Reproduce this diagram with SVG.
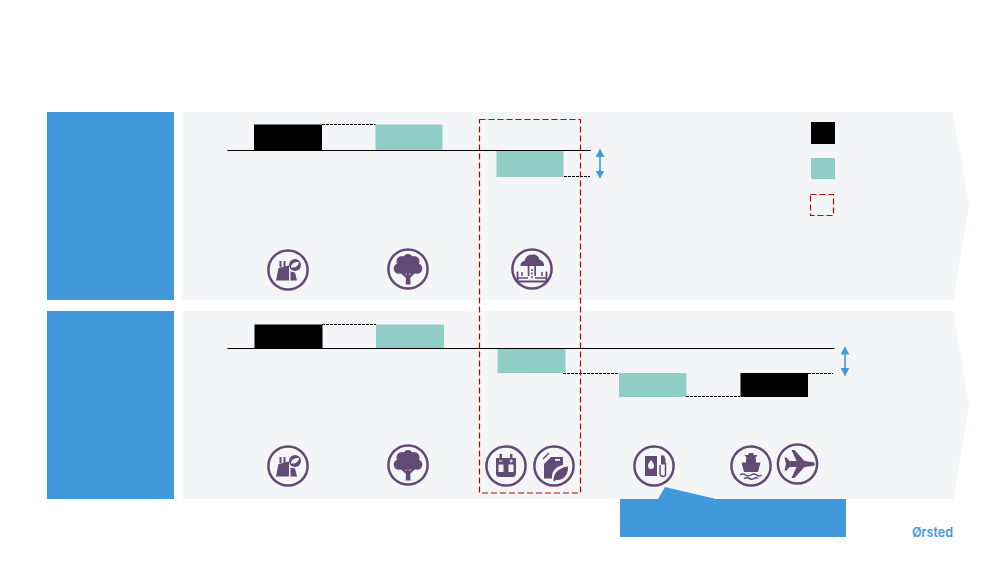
<svg xmlns="http://www.w3.org/2000/svg" width="1000" height="563" viewBox="0 0 1000 563">
<style>
.band{fill:#f4f5f7}.blue{fill:#4199dc}.blk{fill:#000}.teal{fill:#91cdc7}
.base{stroke:#000;stroke-width:1.2;fill:none}
.dash{stroke:#000;stroke-width:1;stroke-dasharray:3 1;fill:none}
.red{stroke:#c00000;stroke-width:1.2;stroke-dasharray:6 3;fill:none}
.dbl{stroke:#4199dc;stroke-width:1.6;fill:none;marker-start:url(#a);marker-end:url(#a)}
.ring{fill:none;stroke:#624a76;stroke-width:2.5}
.ic{fill:#624a76}
.icl{fill:none;stroke:#624a76;stroke-width:1.5}
.bg{fill:#f4f5f7}
.logo{font:600 13.500px "Inter","Liberation Sans",sans-serif;fill:#4199dc}
</style>
<defs>
<marker id="a" viewBox="0 0 8 9" refX="7.500" refY="4.500" markerWidth="8" markerHeight="9" markerUnits="userSpaceOnUse" orient="auto-start-reverse"><path d="M0 0L8 4.500L0 9Z" fill="#4199dc"/></marker>
<g id="factory"><circle class="ring" r="19.6"/><path class="ic" d="M-12 10.500L-9.500-2L1-4.500L1 10.500Z"/><path class="ic" d="M2.500 1.500L7 2.500L9 10.500H2.500Z"/><path class="ic" d="M-8.500-9h2v6h-2zM-4.500-9h2v6h-2z"/><circle class="ic" cx="7" cy="-5" r="6"/><path class="bg" d="M3-2.500C3-6 6-8.500 11-8C10.500-4.500 8-2 3-2.500Z"/></g>
<g id="tree"><circle class="ring" r="19.6"/><path class="ic" d="M-2.300 15.500L-2 9L-8 3.500L-6.500 2.500L-1.500 6L-1 2H1L1.500 6L6.500 2L8 3L2.200 9L2.500 15.500Z"/><g class="ic"><circle cx="-9" cy="-.500" r="5.300"/><circle cx="-6" cy="-7.500" r="5.500"/><circle cx="0" cy="-10" r="5"/><circle cx="6" cy="-7.500" r="5.500"/><circle cx="9" cy="-.500" r="5.300"/><circle cx="0" cy="-3" r="7.500"/><circle cx="-3.500" cy="1.500" r="3.500"/><circle cx="4" cy="1.500" r="3.500"/></g></g>
<g id="plant"><circle class="ring" r="19.6"/><path class="ic" d="M-11.500-3C-12-6-9.500-8-7.500-8C-6.500-12-3-15 0-14C3-15.500 7-13 7.500-9C10-9 12.500-6 12-3Z"/><path class="ic" d="M-4.300-3h1.700v10h-1.700zM2.300-3h1.700v10h-1.700z"/><path d="M-14.500 2.500V12.500H14.500V2.500" fill="none" stroke="#624a76" stroke-width="1.800"/><path class="icl" d="M-14 9H-4M3 9H14M-10 3V7M10 3V7"/><path class="ic" d="M-.800 0h1.600v2h-1.600zM-.800 3.500h1.600v2h-1.600zM-.800 7h1.600v2h-1.600z"/></g>
<g id="battery"><circle class="ring" r="19.6"/><path class="ic" d="M-10-8H10V7Q10 11 6.500 11H-6.500Q-10 11-10 7Z"/><path class="ic" d="M-6.500-12h2.500v5h-2.500zM4-12h2.500v5h-2.500z"/><path class="bg" d="M-7.500-1.500H-2.500V6H-7.500ZM2.500-1.500H7.500V6H2.500Z"/><path d="M-7-5h3.500M3.500-5h3.500M5.200-6.700v3.400" stroke="#f4f5f7" stroke-width="1" fill="none"/></g>
<g id="can"><circle class="ring" r="19.6"/><path class="ic" d="M-10-2L-3-9H9V-1C3 0-2 5-2 10L-2 12.500H-10Z"/><path class="icl" d="M-11-7L-5-13"/><path class="bg" d="M1-7h5v1.800h-5z"/><path class="ic" d="M-.500 14.500C-.500 7 5 1.500 14 .500C14.500 9 9 15 2 14L0 15.500Z"/></g>
<g id="pump"><circle class="ring" r="19.6"/><path class="ic" d="M-9-10H3V10H-9Z"/><path class="bg" d="M-3-6C-1-3.500 0-2 0 0A3 3 0 0 1-6 0C-6-2-5-3.500-3-6Z"/><path class="icl" d="M6-1V7Q6 10.500 9 10.500T11.500 7V-3"/><path class="ic" d="M7-10.500H10L11.500-7V-1.500H7Z"/></g>
<g id="ship"><circle class="ring" r="19.6"/><path class="ic" d="M-2.500-13H2.500V-11H6.500L4-7.500H5V-3.500H9.500L7 6H-7L-9.500-3.500H-5V-7.500H-4L-6.500-11H-2.500Z"/><path class="icl" d="M-11 9Q-8 7-5.500 9T0 9T5.500 9T11 9M-7 12.500Q-4 11-1.500 12.500T3 12.500T7 12.500"/></g>
<g id="plane"><circle class="ring" r="19.6"/><path class="ic" d="M16-1.800L7-3L-3-14L-6-14L-1-3L-8-3L-11-6.500L-13-6.500L-11.500 0L-13 6.500L-11 6.500L-8 3L-1 3L-6 14L-3 14L7 3L16 1.800Q18.500 0 16-1.800Z"/></g>
</defs>
<g id="band-top"><path class="band" d="M183 112H953L969 206L953 300H183Z"/></g>
<g id="band-bottom"><path class="band" d="M183 311H953L969 405L953 499H183Z"/></g>
<g id="label-top"><rect class="blue" x="47" y="112" width="127" height="188"/></g>
<g id="label-bottom"><rect class="blue" x="47" y="311" width="127" height="188"/></g>
<g id="bars-top">
<rect class="blk" x="254" y="124.500" width="68" height="26"/>
<rect class="teal" x="375.500" y="124.500" width="67" height="26"/>
<rect class="teal" x="496.500" y="151" width="67" height="26"/>
</g>
<g id="bars-bottom">
<rect class="blk" x="254.500" y="324.500" width="68" height="24"/>
<rect class="teal" x="376" y="324.500" width="68" height="24"/>
<rect class="teal" x="497.500" y="349" width="68" height="24"/>
<rect class="teal" x="619" y="373" width="67.500" height="24"/>
<rect class="blk" x="740.500" y="373" width="67.500" height="24"/>
</g>
<g id="connectors">
<path class="base" d="M227.500 150.500H591M227.500 348.500H834.500"/>
<path class="dash" d="M322 124.500H375.500M564 176.500H590M322 324.500H376M563 373.500H619M686 396.500H740M808 373.500H833"/>
<path class="dbl" d="M600 149.500V178"/>
<path class="dbl" d="M845 347V375.500"/>
</g>
<g id="scope"><rect class="red" x="479.500" y="119.500" width="101" height="373.500"/></g>
<g id="legend">
<rect class="blk" x="811" y="122" width="24" height="22"/>
<rect class="teal" x="811" y="158" width="24" height="21"/>
<rect class="red" x="810.500" y="194.500" width="23" height="21"/>
</g>
<g id="icons-top">
<use href="#factory" x="288" y="270"/>
<use href="#tree" x="408" y="269"/>
<use href="#plant" x="532" y="269"/>
</g>
<g id="icons-bottom">
<use href="#factory" x="288" y="466"/>
<use href="#tree" x="408" y="465"/>
<use href="#battery" x="506" y="466"/>
<use href="#can" x="554" y="466"/>
<use href="#pump" x="654" y="466"/>
<use href="#ship" x="751" y="466"/>
<use href="#plane" x="797.500" y="464"/>
</g>
<g id="callout"><path class="blue" d="M620 499H658L665 487L716 499H846V537H620Z"/></g>
<g id="logo"><text class="logo" x="912" y="537" textLength="41" lengthAdjust="spacingAndGlyphs">Ørsted</text></g>
</svg>
